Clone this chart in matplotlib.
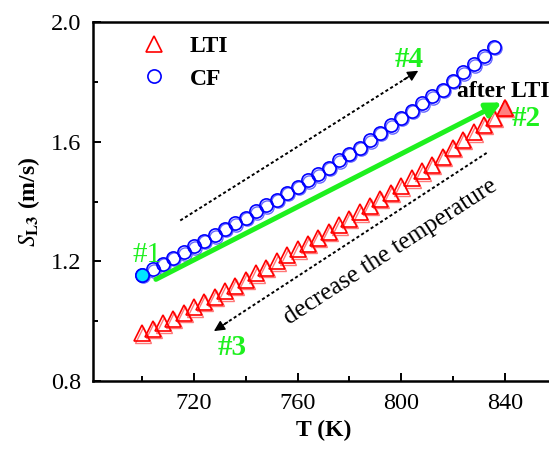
import matplotlib
matplotlib.use('Agg')
import matplotlib.pyplot as plt
from matplotlib.ticker import MultipleLocator
from matplotlib import transforms

plt.rcParams['font.family'] = ['Liberation Serif', 'DejaVu Serif']
plt.rcParams['mathtext.fontset'] = 'stix'

# LTI (triangles), last point = after LTI
T_lti = [700, 704, 708, 712, 716, 720, 724, 728, 732, 736, 740, 744,
         748, 752, 756, 760, 764, 768, 772, 776, 780, 784, 788, 792,
         796, 800, 804, 808, 812, 816, 820, 824, 828, 832, 836, 840]
s_lti = [0.959, 0.975, 0.993, 1.009, 1.028, 1.047, 1.065, 1.082, 1.100, 1.119, 1.139, 1.160,
         1.179, 1.200, 1.220, 1.240, 1.260, 1.280, 1.300, 1.321, 1.343, 1.365, 1.387, 1.409,
         1.430, 1.452, 1.478, 1.501, 1.524, 1.550, 1.580, 1.607, 1.633, 1.657, 1.681, 1.714]

# CF (circles), first point = #1
T_cf = [700, 704, 708, 712, 716, 720, 724, 728, 732, 736, 740, 744,
        748, 752, 756, 760, 764, 768, 772, 776, 780, 784, 788, 792,
        796, 800, 804, 808, 812, 816, 820, 824, 828, 832, 836]
s_cf = [1.155, 1.174, 1.193, 1.212, 1.231, 1.251, 1.270, 1.288, 1.309, 1.327, 1.346, 1.368,
        1.388, 1.407, 1.429, 1.450, 1.472, 1.491, 1.514, 1.538, 1.561, 1.581, 1.605, 1.630,
        1.655, 1.681, 1.705, 1.730, 1.753, 1.775, 1.805, 1.833, 1.859, 1.887, 1.918]

green = '#1ef01e'

fig = plt.figure(figsize=(5.49, 4.54), dpi=100)
ax = fig.add_axes([0.1703, 0.1608, 0.8397, 0.790])

# slightly shifted copy to get the doubled outline look
shift = transforms.offset_copy(ax.transData, fig=fig, x=1.0, y=-1.5, units='dots')
ax.plot(T_lti, s_lti, ls='none', marker='^', ms=11.5, mfc='none', mec='#ff7777',
        mew=1.0, transform=shift)
ax.plot(T_cf, s_cf, ls='none', marker='o', ms=9.5, mfc='none', mec='#6666ff',
        mew=1.0, transform=shift)

ax.plot(T_lti, s_lti, ls='none', marker='^', ms=11.5, mfc='none', mec='red', mew=1.2, label='LTI')
ax.plot(T_cf, s_cf, ls='none', marker='o', ms=9.5, mfc='none', mec='blue', mew=1.2, label='CF')
ax.plot(T_lti[-1], s_lti[-1], ls='none', marker='^', ms=11.5, mfc='#ff8080', mec='red', mew=1.2)
ax.plot(T_cf[0], s_cf[0], ls='none', marker='o', ms=9.5, mfc='#00e5ff', mec='blue', mew=1.2)

# green arrow
ax.annotate('', xy=(838.8, 1.732), xytext=(705.3, 1.140),
            arrowprops=dict(arrowstyle='-|>', color=green, lw=3.6,
                            mutation_scale=22, shrinkA=0, shrinkB=0))

# dotted arrows (#4 up, #3 down)
dots = (0, (1.6, 1.3))
ax.plot([714.7, 804.0], [1.337, 1.824], color='k', lw=1.4, ls=dots)
ax.annotate('', xy=(806.6, 1.838), xytext=(801.0, 1.808),
            arrowprops=dict(arrowstyle='-|>', color='k', lw=1,
                            mutation_scale=16, shrinkA=0, shrinkB=0))
ax.plot([833.0, 731.0], [1.563, 0.986], color='k', lw=1.4, ls=dots)
ax.annotate('', xy=(727.7, 0.967), xytext=(733.0, 0.997),
            arrowprops=dict(arrowstyle='-|>', color='k', lw=1,
                            mutation_scale=16, shrinkA=0, shrinkB=0))

ax.text(701.7, 1.223, '#1', color=green, fontsize=21, ha='center', va='center')
ax.text(848.1, 1.679, '#2', color=green, fontsize=21, fontweight='bold', ha='center', va='center')
ax.text(734.8, 0.911, '#3', color=green, fontsize=21, fontweight='bold', ha='center', va='center')
ax.text(803.0, 1.876, '#4', color=green, fontsize=21, fontweight='bold', ha='center', va='center')
ax.text(821.4, 1.751, 'after LTI', color='k', fontsize=17, fontweight='bold',
        ha='left', va='baseline', clip_on=False)
ax.text(795.9, 1.231, 'decrease the temperature', fontsize=18, rotation=33,
        rotation_mode='anchor', ha='center', va='center')

ax.set_xlim(681.2, 859.2)
ax.set_ylim(0.8, 2.0)
ax.xaxis.set_major_locator(MultipleLocator(40))
ax.xaxis.set_minor_locator(MultipleLocator(20))
ax.yaxis.set_major_locator(MultipleLocator(0.4))
ax.yaxis.set_minor_locator(MultipleLocator(0.2))
ax.set_xticks([720, 760, 800, 840])
ax.tick_params(which='both', direction='in', width=1.4, labelsize=17.5)
ax.tick_params(which='major', length=5.5, pad=9)
ax.tick_params(which='minor', length=3.6)
for sp in ax.spines.values():
    sp.set_linewidth(1.8)
ax.spines['right'].set_visible(False)

ax.set_xlabel('T (K)', fontsize=17, fontweight='bold', labelpad=4)
ax.set_ylabel(r'$\mathit{S}_{\mathbf{L3}}$ (m/s)', fontsize=17, fontweight='bold', labelpad=6)

ax.legend(loc='upper left', bbox_to_anchor=(0.106, 0.962), frameon=False,
          prop={'weight': 'bold', 'size': 17}, handlelength=1.0, handletextpad=1.0,
          labelspacing=0.45, borderpad=0, borderaxespad=0)

fig.savefig('out.png', dpi=100)
